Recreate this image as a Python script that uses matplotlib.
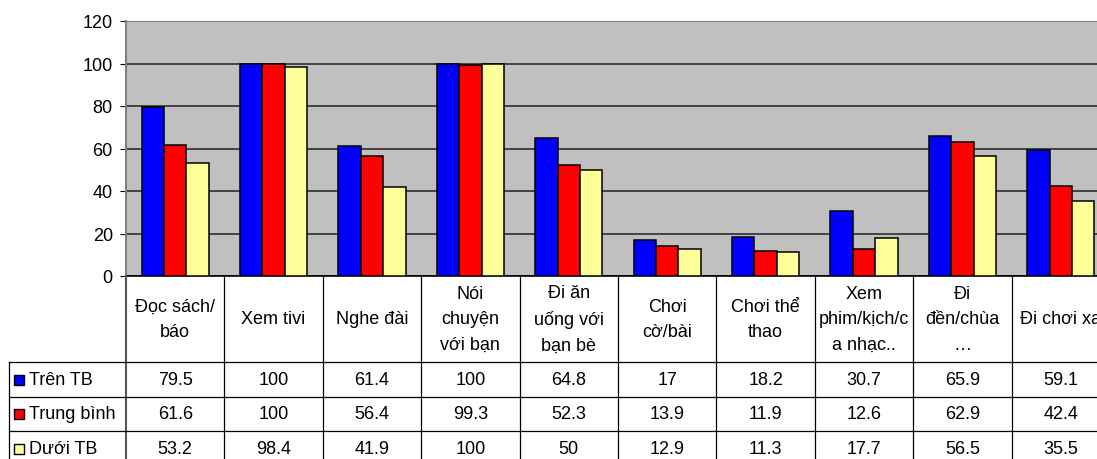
import numpy as np
import matplotlib
matplotlib.use("Agg")
import matplotlib.pyplot as plt
from matplotlib.lines import Line2D
from matplotlib.patches import Rectangle
from matplotlib.transforms import blended_transform_factory

plt.rcParams["font.family"] = ["Liberation Sans", "DejaVu Sans"]

# -------------------------
# Data
# -------------------------
categories = [
    "Đọc sách/\nbáo", "Xem tivi", "Nghe đài", "Nói\nchuyện\nvới bạn",
    "Đi ăn\nuống với\nbạn bè", "Chơi\ncờ/bài", "Chơi thể\nthao",
    "Xem\nphim/kịch/c\na nhạc..", "Đi\nđền/chùa\n…", "Đi chơi xa",
]
series_names = ["Trên TB", "Trung bình", "Dưới TB"]
tren_tb = [79.5, 100, 61.4, 100, 64.8, 17, 18.2, 30.7, 65.9, 59.1]
trung_binh = [61.6, 100, 56.4, 99.3, 52.3, 13.9, 11.9, 12.6, 62.9, 42.4]
duoi_tb = [53.2, 98.4, 41.9, 100, 50, 12.9, 11.3, 17.7, 56.5, 35.5]
colors = ["#0000FF", "#FF0000", "#FFFF99"]

W, H = 1097, 460
FS = 13
fig = plt.figure(figsize=(W / 100, H / 100), dpi=100)

# plot area in pixels (extends a little past the right edge, like the source)
left_px, right_px, top_px, bottom_px = 126, 1110, 22, 277
ax = fig.add_axes([left_px / W, 1 - bottom_px / H,
                   (right_px - left_px) / W, (bottom_px - top_px) / H])
ax.set_facecolor("#C0C0C0")

x = np.arange(len(categories))
bw = 0.227
for i, vals in enumerate([tren_tb, trung_binh, duoi_tb]):
    ax.bar(x + (i - 1) * bw, vals, width=bw, color=colors[i],
           edgecolor="black", linewidth=1.1, zorder=3)

ax.set_xlim(-0.5, len(categories) - 0.5)
ax.set_ylim(0, 120)
ax.set_yticks(range(0, 121, 20))
ax.set_xticks([])
ax.tick_params(axis="y", direction="out", length=4.5, width=0.8,
               pad=5, labelsize=FS)
ax.yaxis.grid(True, color="#222222", linewidth=1.1, zorder=1)
ax.set_axisbelow(True)
ax.spines["right"].set_visible(False)
ax.spines["top"].set_color("#808080")
ax.spines["left"].set_color("#808080")
ax.spines["left"].set_linewidth(1.5)
ax.spines["bottom"].set_color("black")
ax.spines["bottom"].set_linewidth(1.2)

# -------------------------
# Data table under the chart
# -------------------------
def fy(py):
    return 1 - py / H

tr = blended_transform_factory(ax.transData, fig.transFigure)
header_bottom = 363
row_lines = [363, 398, 432, 467]
table_bottom = 467
line_kw = dict(color="black", linewidth=0.9)

# vertical lines between categories
for k in range(len(categories) + 1):
    xb = k - 0.5
    fig.add_artist(Line2D([xb, xb], [fy(bottom_px), fy(table_bottom)],
                          transform=tr, color="#555555" if k == 0 else "black",
                          linewidth=1.5 if k == 0 else 0.9))

# horizontal lines of the value rows
for yl in row_lines[:-1]:
    fig.add_artist(Line2D([9 / W, 1.0], [fy(yl), fy(yl)],
                          transform=fig.transFigure, **line_kw))
fig.add_artist(Line2D([9 / W, 9 / W], [fy(header_bottom), fy(table_bottom)],
                      transform=fig.transFigure, **line_kw))

# header labels
for xi, lab in zip(x, categories):
    fig.text(xi, fy((bottom_px + header_bottom) / 2), lab, transform=tr,
             ha="center", va="center", fontsize=FS, linespacing=1.65)

# rows: legend key + name + values
for r, (name, vals) in enumerate(zip(series_names, [tren_tb, trung_binh, duoi_tb])):
    yc = (row_lines[r] + row_lines[r + 1]) / 2
    fig.add_artist(Rectangle((14 / W, fy(yc + 5)), 10 / W, 10 / H,
                             transform=fig.transFigure, facecolor=colors[r],
                             edgecolor="black", linewidth=1.0))
    fig.text(29 / W, fy(yc), name, transform=fig.transFigure,
             ha="left", va="center", fontsize=FS)
    for xi, v in zip(x, vals):
        fig.text(xi, fy(yc), f"{v:g}", transform=tr,
                 ha="center", va="center", fontsize=FS)

fig.savefig("out.png", dpi=100)
